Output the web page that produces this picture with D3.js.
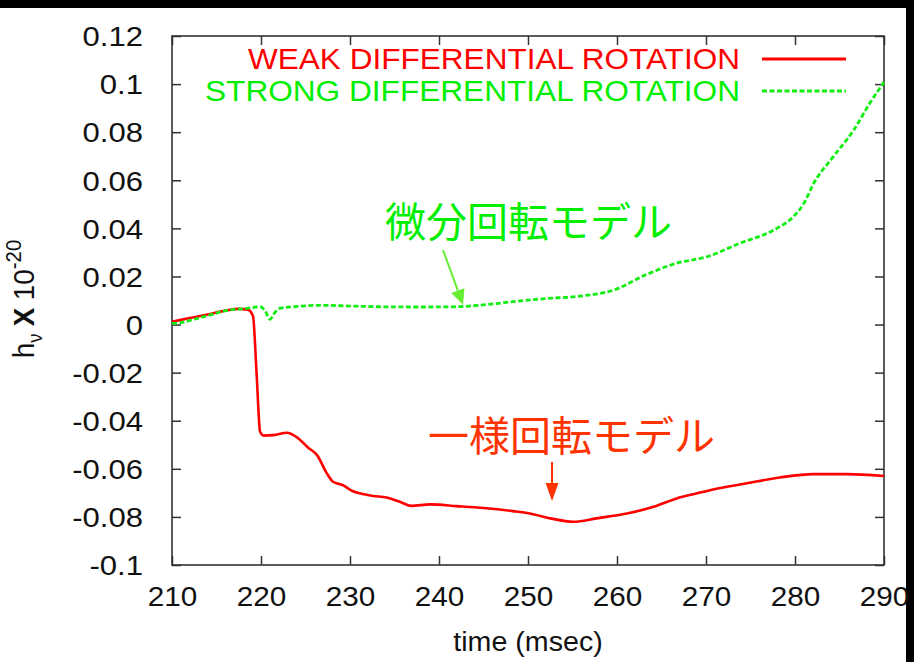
<!DOCTYPE html>
<html><head><meta charset="utf-8">
<script src="https://cdn.jsdelivr.net/npm/d3@7"></script>
<style>body{margin:0;background:#000;} svg{display:block}</style>
</head><body>
<svg id="c" width="914" height="662"></svg>
<script>
// ---- data ----
const xTicks = [210, 220, 230, 240, 250, 260, 270, 280, 290];
const yTicks = [-0.1, -0.08, -0.06, -0.04, -0.02, 0, 0.02, 0.04, 0.06, 0.08, 0.1, 0.12];
const yTickLabels = ["-0.1", "-0.08", "-0.06", "-0.04", "-0.02", "0", "0.02", "0.04", "0.06", "0.08", "0.1", "0.12"];
const seriesNames = ["WEAK DIFFERENTIAL ROTATION", "STRONG DIFFERENTIAL ROTATION"];
const weakTime = [210, 212, 214, 216, 217.5, 218.5, 219.1, 219.5, 219.9, 220.3, 221.4, 222.9, 224, 225.3, 226.3, 227.4, 228.1, 229.2, 230.2, 231.1, 232.6, 234.1, 235.6, 236.9, 239, 242, 245, 248.3, 250.2, 252.5, 255.1, 257.7, 261.1, 264.1, 266.7, 269, 270.8, 274.6, 278.3, 282.1, 285.8, 290];
const weakValue = [0.0012, 0.0027, 0.0042, 0.0058, 0.0065, 0.0062, 0.0035, -0.02, -0.0446, -0.0462, -0.046, -0.045, -0.0468, -0.0512, -0.0543, -0.0619, -0.0654, -0.0668, -0.0691, -0.0702, -0.0713, -0.0719, -0.0737, -0.0754, -0.0748, -0.0755, -0.0763, -0.0776, -0.0786, -0.0806, -0.082, -0.0806, -0.0786, -0.0758, -0.0723, -0.0702, -0.0686, -0.066, -0.0636, -0.0622, -0.0622, -0.063];
const strongTime = [210, 211, 212.5, 214.3, 216.1, 218.4, 219.9, 220.5, 221.0, 221.6, 222.2, 224, 226.6, 230, 233.4, 238, 242, 245, 248.3, 252, 255.8, 259.6, 263.3, 266.7, 270.1, 273.8, 277.6, 279.8, 281.0, 282.1, 284.3, 286.6, 288.4, 290];
const strongValue = [0.0005, 0.0008, 0.0022, 0.004, 0.0058, 0.0067, 0.0074, 0.0055, 0.0022, 0.0052, 0.0068, 0.0075, 0.008, 0.0077, 0.0074, 0.0073, 0.0074, 0.0082, 0.0095, 0.0108, 0.0118, 0.0143, 0.0208, 0.0255, 0.0282, 0.0338, 0.0393, 0.0448, 0.0504, 0.0587, 0.0698, 0.0809, 0.092, 0.1008];
const annoStrong = {text: "微分回転モデル", t: 242.7, v: 0.0074};
const annoWeak = {text: "一様回転モデル", t: 252.7, v: -0.0755};

// ---- layout ----
const svg = d3.select("#c");
const L = 172, R = 884, T = 36, B = 565;
const x = d3.scaleLinear().domain([210, 290]).range([L, R]);
const y = d3.scaleLinear().domain([-0.1, 0.12]).range([B, T]);
const FONT = "'Liberation Sans', Arial, Helvetica, sans-serif";
const JFONT = "'Noto Sans CJK JP', sans-serif";

svg.append("rect").attr("x", 0).attr("y", 8).attr("width", 906).attr("height", 654).attr("fill", "#fff");

function stretch(sel, k) {
  sel.each(function () {
    const w = this.getComputedTextLength();
    this.setAttribute("textLength", w * k);
    this.setAttribute("lengthAdjust", "spacingAndGlyphs");
  });
}

// axes (inward ticks on all four sides)
const axCol = "#333";
const gB = svg.append("g").attr("transform", `translate(0,${B})`)
  .call(d3.axisBottom(x).tickValues(xTicks).tickSize(-9).tickFormat(d3.format("d")).tickPadding(22));
const gT = svg.append("g").attr("transform", `translate(0,${T})`)
  .call(d3.axisTop(x).tickValues(xTicks).tickSize(-9).tickFormat(""));
const gL = svg.append("g").attr("transform", `translate(${L},0)`)
  .call(d3.axisLeft(y).tickValues(yTicks).tickSize(-9).tickFormat((d, i) => yTickLabels[i]).tickPadding(29));
const gR = svg.append("g").attr("transform", `translate(${R},0)`)
  .call(d3.axisRight(y).tickValues(yTicks).tickSize(-9).tickFormat(""));
[gB, gT, gL, gR].forEach(g => {
  g.select(".domain").remove();
  g.selectAll(".tick line").attr("stroke", axCol).attr("stroke-width", 1.5);
  g.selectAll("text").attr("font-family", FONT).attr("font-size", 27).attr("fill", "#111");
});
gB.selectAll(".tick text").attr("dy", "0.72em");
gL.selectAll(".tick text").attr("dy", "0.36em");
stretch(gB.selectAll(".tick text"), 1.1);
stretch(gL.selectAll(".tick text"), 1.15);
svg.append("rect").attr("x", L).attr("y", T).attr("width", R - L).attr("height", B - T)
  .attr("fill", "none").attr("stroke", axCol).attr("stroke-width", 1.6);

// axis titles
const xt = svg.append("text").attr("x", (L + R) / 2).attr("y", 651).attr("text-anchor", "middle")
  .attr("font-family", FONT).attr("font-size", 27).attr("fill", "#111").text("time (msec)");
stretch(xt, 1.06);

const yl = svg.append("text").attr("transform", "translate(34,299) rotate(-90)")
  .attr("text-anchor", "middle").attr("font-family", FONT).attr("font-size", 30).attr("fill", "#111");
yl.append("tspan").text("h");
yl.append("tspan").attr("font-size", 20).attr("dy", 8).text("ν");
yl.append("tspan").attr("dy", -8).attr("dx", 8).attr("font-weight", "bold").attr("font-size", 30).text("X");
yl.append("tspan").attr("dx", 8).text("10");
yl.append("tspan").attr("font-size", 22).attr("dy", -13).text("-20");
stretch(yl, 1.06);

// lines
const lineGen = d3.line().x(d => x(d[0])).y(d => y(d[1])).curve(d3.curveMonotoneX);
const weak = weakTime.map((t, i) => [t, weakValue[i]]);
const strong = strongTime.map((t, i) => [t, strongValue[i]]);
svg.append("path").datum(weak).attr("d", lineGen).attr("fill", "none")
  .attr("stroke", "#ff0000").attr("stroke-width", 2.6).attr("stroke-linejoin", "round");
svg.append("path").datum(strong).attr("d", lineGen).attr("fill", "none")
  .attr("stroke", "#11ee11").attr("stroke-width", 2.8).attr("stroke-dasharray", "5,2.5");

// legend
const legCols = ["#ff0000", "#00ee00"];
const legY = [59, 91];
const legTargetW = [492, 535];
seriesNames.forEach((name, i) => {
  const t = svg.append("text").attr("x", 740).attr("y", legY[i]).attr("dy", "0.36em")
    .attr("text-anchor", "end").attr("font-family", FONT).attr("font-size", 29)
    .attr("fill", legCols[i]).text(name);
  t.attr("textLength", legTargetW[i]).attr("lengthAdjust", "spacingAndGlyphs");
  const ln = svg.append("line").attr("x1", 762).attr("x2", 846).attr("y1", legY[i]).attr("y2", legY[i])
    .attr("stroke", i === 0 ? "#ff0000" : "#11ee11").attr("stroke-width", 2.8);
  if (i === 1) ln.attr("stroke-dasharray", "5,2.5");
});

// annotations
function arrow(x1, y1, x2, y2, col, hl, hw) {
  const ang = Math.atan2(y2 - y1, x2 - x1);
  const bx = x2 - hl * Math.cos(ang), by = y2 - hl * Math.sin(ang);
  svg.append("line").attr("x1", x1).attr("y1", y1).attr("x2", bx).attr("y2", by)
    .attr("stroke", col).attr("stroke-width", 2);
  const px = -Math.sin(ang) * hw / 2, py = Math.cos(ang) * hw / 2;
  svg.append("path").attr("d", `M${x2},${y2}L${bx + px},${by + py}L${bx - px},${by - py}Z`).attr("fill", col);
}
svg.append("text").attr("x", 385).attr("y", 222).attr("dy", "0.36em")
  .attr("font-family", JFONT).attr("font-size", 41).attr("fill", "#00ee00").text(annoStrong.text);
arrow(443, 250, x(annoStrong.t), y(annoStrong.v) - 2, "#66ee33", 15, 14);
svg.append("text").attr("x", 428).attr("y", 436).attr("dy", "0.36em")
  .attr("font-family", JFONT).attr("font-size", 41).attr("fill", "#ff3300").text(annoWeak.text);
arrow(x(annoWeak.t), 462, x(annoWeak.t), y(annoWeak.v) - 5, "#ff3300", 18, 13);
</script>
</body></html>
